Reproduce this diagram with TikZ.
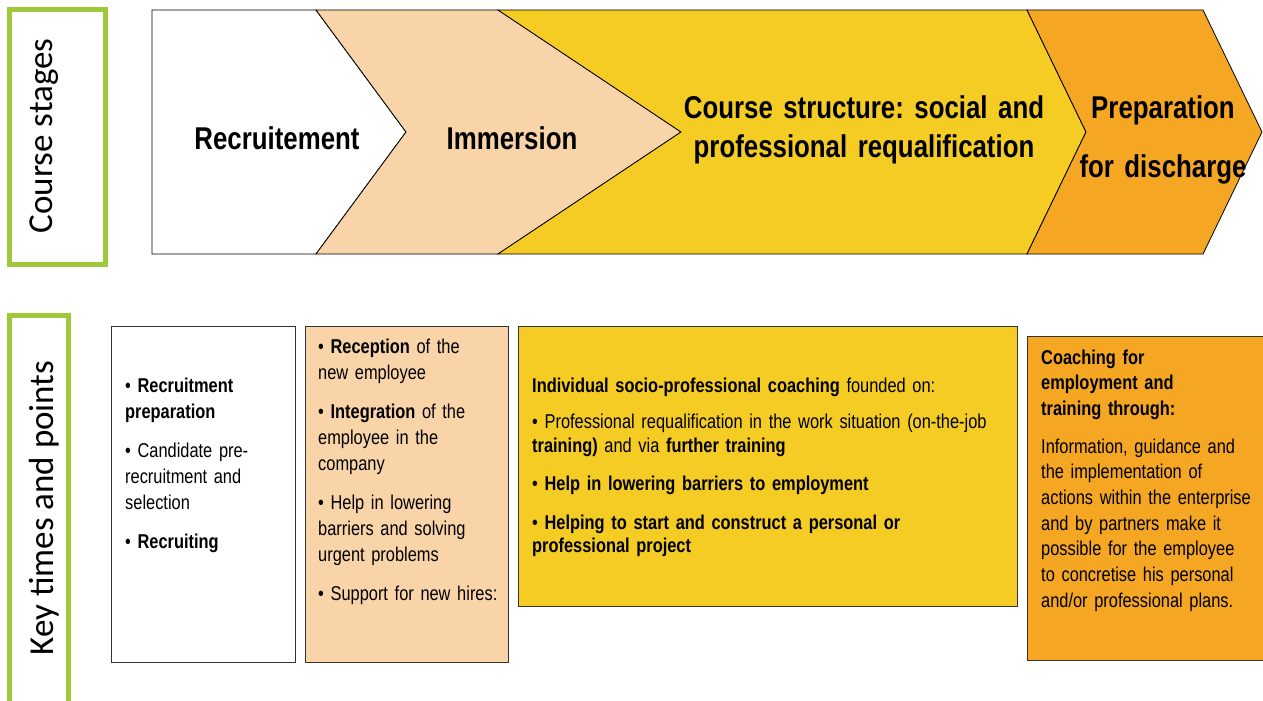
\documentclass[tikz,border=0pt]{standalone}
\usepackage{fontspec}
\setmainfont{Liberation Sans}[FakeStretch=0.82, WordSpace=0.85]
\newfontfamily\sidefont{Carlito}
\usetikzlibrary{positioning}
\frenchspacing

\definecolor{sidegreen}{RGB}{157,201,59}
\definecolor{peach}{RGB}{249,212,168}
\definecolor{sunyellow}{RGB}{244,204,36}
\definecolor{deeporange}{RGB}{245,166,35}

\begin{document}
\begin{tikzpicture}[x=1pt, y=-1pt,
	sidebox/.style={draw=sidegreen, line width=5pt},
	sidelabel/.style={font=\sidefont\fontsize{35}{40}\selectfont, rotate=90, anchor=base, inner sep=0pt},
	stagebox/.style={draw=black, line width=0.8pt},
	stagetext/.style={font=\bfseries\fontsize{31.5}{39}\selectfont, anchor=base, align=center, text width=420pt, inner sep=0pt},
	keybox/.style={draw=black!80, line width=1.2pt, anchor=north west, inner sep=0pt},
	keytext/.style={font=\fontsize{20}{26}\selectfont, anchor=base west, align=left, text width=200pt, inner sep=0pt}]
	\useasboundingbox (0,0) rectangle (1263,701);

	% Side labels in green frames
	\draw[sidebox]	(9.5,9.5) rectangle (105.5,264);
	\draw[sidebox]	(9.5,315) rectangle (68,720);
	\node (stageslabel)	[sidelabel]	at (52,136)		{Course stages};
	\node (keylabel)		[sidelabel]	at (53,508)		{Key times and points};

	% Chevrons of the course stages
	\draw[stagebox, fill=white]				(152,10) -- (316,10) -- (406,132) -- (316,254) -- (152,254) -- cycle;
	\draw[stagebox, fill=peach]				(316,10) -- (498,10) -- (681,132) -- (498,254) -- (316,254) -- (406,132) -- cycle;
	\draw[stagebox, fill=sunyellow]		(498,10) -- (1027,10) -- (1086,132) -- (1027,254) -- (498,254) -- (681,132) -- cycle;
	\draw[stagebox, fill=deeporange]	(1027,10) -- (1203,10) -- (1262,132) -- (1203,254) -- (1027,254) -- (1086,132) -- cycle;

	\node (recruit)		[stagetext]	at (277,149)		{Recruitement};
	\node (immersion)	[stagetext]	at (512,149)		{Immersion};
	\node (structure)	[stagetext]	at (864,118)		{Course structure: social and\\professional requalification};
	\node (discharge)	[stagetext, font=\bfseries\fontsize{31.5}{59}\selectfont]	at (1163,118)
																		{Preparation\\for discharge};

	% Boxes with the key times and points
	\node (recbox)		[keybox, fill=white, minimum width=184pt, minimum height=336pt]	at (111,326) {};
	\node (immbox)		[keybox, fill=peach, minimum width=203pt, minimum height=336pt]	at (305,326) {};
	\node (coursebox)	[keybox, fill=sunyellow, minimum width=499pt, minimum height=280pt]	at (518,326) {};
	\node (prepbox)		[keybox, fill=deeporange, minimum width=240pt, minimum height=324pt]	at (1027,336) {};

	\node (rectext)		[keytext]	at (125,392)
		{• \textbf{Recruitment}\\\textbf{preparation}\\[13pt]
		 • Candidate pre-\\recruitment and\\selection\\[13pt]
		 • \textbf{Recruiting}};
	\node (immtext)		[keytext]	at (318,353)
		{• \textbf{Reception} of the\\new employee\\[13pt]
		 • \textbf{Integration} of the\\employee in the\\company\\[13pt]
		 • Help in lowering\\barriers and solving\\urgent problems\\[13pt]
		 • Support for new hires:};
	\node (coursetext)	[keytext, text width=480pt, font=\fontsize{20}{23.5}\selectfont]	at (532,392)
		{\textbf{Individual socio-professional coaching} founded on:\\[13pt]
		 • Professional requalification in the work situation (on-the-job\\\textbf{training)} and via \textbf{further training}\\[15pt]
		 • \textbf{Help in lowering barriers to employment}\\[15pt]
		 • \textbf{Helping to start and construct a personal or}\\\textbf{professional project}};
	\node (preptext)		[keytext, text width=222pt, font=\fontsize{20}{25.7}\selectfont]	at (1041,364)
		{\textbf{Coaching for}\\\textbf{employment and}\\\textbf{training through:}\\[12pt]
		 Information, guidance and\\the implementation of\\actions within the enterprise\\and by partners make it\\possible for the employee\\to concretise his personal\\and/or professional plans.};
\end{tikzpicture}
\end{document}
